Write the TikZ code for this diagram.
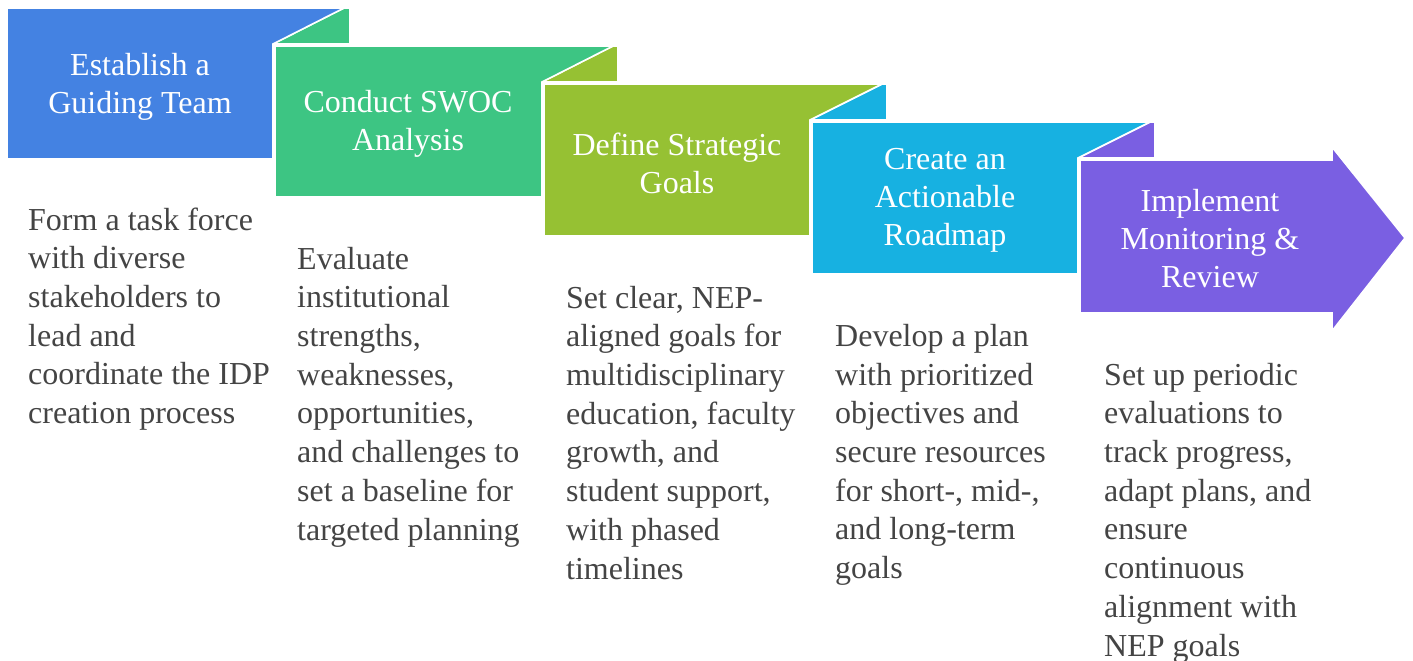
\documentclass[tikz,border=0pt]{standalone}
\usepackage{fontspec}
\setmainfont{Liberation Serif}
\definecolor{cblue}{HTML}{4482E2}
\definecolor{cgreen}{HTML}{3DC583}
\definecolor{colive}{HTML}{96C133}
\definecolor{ccyan}{HTML}{17B1E1}
\definecolor{cpurple}{HTML}{7A5FE2}
\definecolor{desccol}{HTML}{444444}
\begin{document}
\begin{tikzpicture}[x=1pt,y=-1pt,
  shapebox/.style={draw=white, line width=1.6pt, line join=miter},
  title/.style={text=white, font=\fontsize{32}{38}\selectfont, align=center, inner sep=0pt},
  desc/.style={text=desccol, font=\fontsize{32}{38.7}\selectfont, align=left, anchor=base west, inner sep=0pt}]
\useasboundingbox (0,0) rectangle (1413,661);
% tabs
\fill[cgreen, shapebox] (273,44) -- (344,8) -- (350,8) -- (350,44) -- cycle;
\fill[colive, shapebox] (542,82) -- (613,46) -- (618,46) -- (618,82) -- cycle;
\fill[ccyan, shapebox] (810,120) -- (882,84) -- (887,84) -- (887,120) -- cycle;
\fill[cpurple, shapebox] (1078,158) -- (1150,122) -- (1155,122) -- (1155,158) -- cycle;
% boxes
\filldraw[cblue, shapebox] (7,8) -- (344,8) -- (273,44) -- (273,159) -- (7,159) -- cycle;
\filldraw[cgreen, shapebox] (275,46) -- (613,46) -- (542,82) -- (542,197) -- (275,197) -- cycle;
\filldraw[colive, shapebox] (544,84) -- (882,84) -- (810,120) -- (810,236) -- (544,236) -- cycle;
\filldraw[ccyan, shapebox] (812,122) -- (1150,122) -- (1078,158) -- (1078,274) -- (812,274) -- cycle;
\filldraw[cpurple, shapebox] (1080,160) -- (1332,160) -- (1332,147) -- (1405,238) -- (1332,331) -- (1332,313) -- (1080,313) -- cycle;
% titles
\node[title] (t1) at (140,87) {Establish a\\Guiding Team};
\node[title] (t2) at (408,124) {Conduct SWOC\\Analysis};
\node[title] (t3) at (677,163) {Define Strategic\\Goals};
\node[title] (t4) at (945,200) {Create an\\Actionable\\Roadmap};
\node[title] (t5) at (1210,239) {Implement\\Monitoring \&\\Review};
% descriptions (anchored at the baseline of the last line)
\node[desc] (d1) at (28,423.5) {Form a task force\\with diverse\\stakeholders to\\lead and\\coordinate the IDP\\creation process};
\node[desc] (d2) at (297,540) {Evaluate\\institutional\\strengths,\\weaknesses,\\opportunities,\\and challenges to\\set a baseline for\\targeted planning};
\node[desc] (d3) at (566,579) {Set clear, NEP-\\aligned goals for\\multidisciplinary\\education, faculty\\growth, and\\student support,\\with phased\\timelines};
\node[desc] (d4) at (835,578.5) {Develop a plan\\with prioritized\\objectives and\\secure resources\\for short-, mid-,\\and long-term\\goals};
\node[desc] (d5) at (1104,656) {Set up periodic\\evaluations to\\track progress,\\adapt plans, and\\ensure\\continuous\\alignment with\\NEP goals};
\end{tikzpicture}
\end{document}
